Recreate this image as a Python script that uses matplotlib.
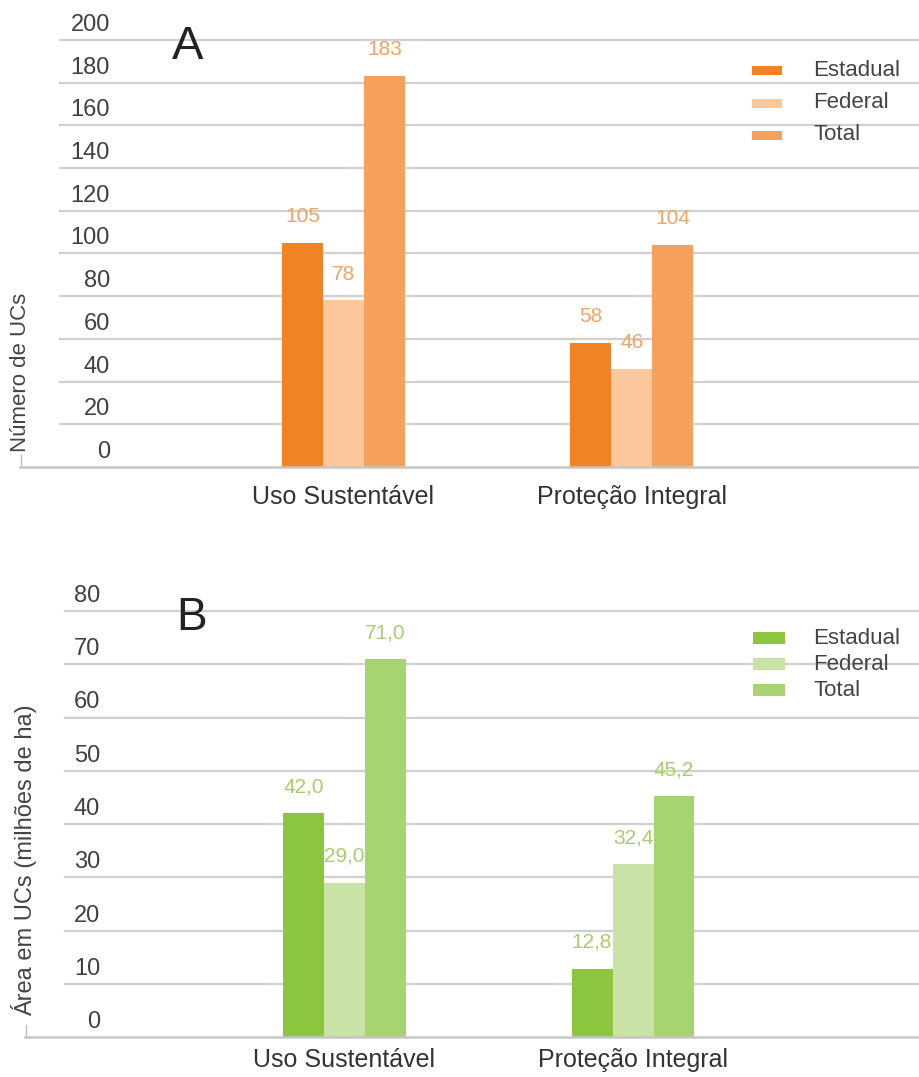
import matplotlib
matplotlib.use("Agg")
import matplotlib.pyplot as plt
import matplotlib.transforms as mtransforms
from matplotlib.patches import Rectangle
import numpy as np

plt.rcParams['font.family'] = ['Liberation Sans', 'DejaVu Sans']

# ---- data -------------------------------------------------------------
categories = ["Uso Sustentável", "Proteção Integral"]
series = ["Estadual", "Federal", "Total"]

count_estadual = [105, 58]
count_federal = [78, 46]
count_total = [183, 104]

area_estadual = [42.0, 12.8]
area_federal = [29.0, 32.4]
area_total = [71.0, 45.2]

count_ticks = [0, 20, 40, 60, 80, 100, 120, 140, 160, 180, 200]
area_ticks = [0, 10, 20, 30, 40, 50, 60, 70, 80]

# ---- style ------------------------------------------------------------
orange = ["#F08326", "#FAC89C", "#F6A15B"]
green = ["#8CC53E", "#C9E2A6", "#A7D370"]
orange_text = "#F0A464"
green_text = "#A6CE6E"
grid_color = "#d0d0d0"
tick_color = "#404040"

W, H, DPI = 919, 1077, 100
fig = plt.figure(figsize=(W / DPI, H / DPI), dpi=DPI)


def px_rect(left, right, top, bottom):
    return [left / W, 1 - bottom / H, (right - left) / W, (bottom - top) / H]


def fx(px):
    return px / W


def fy(py):
    return 1 - py / H


def draw_panel(ax, values, colors, ticks, xlim, grid_start, label_right_px,
               ax_left_px, ax_width_px, ax_height_px, fmt, text_color, cat_pad):
    x = np.arange(len(categories))
    width = 0.142
    offsets = [-width, 0.0, width]
    for vals, col, off in zip(values, colors, offsets):
        ax.bar(x + off, vals, width=width, color=col, linewidth=0, zorder=2)
        for xi, v in zip(x, vals):
            ax.annotate(fmt(v), (xi + off, v), xytext=(0, 19),
                        textcoords="offset points", ha="center", va="center",
                        fontsize=15, color=text_color, zorder=4)

    ax.set_xlim(*xlim)
    ax.set_ylim(ticks[0], ticks[-1])
    for t in ticks[1:]:
        ax.axhline(t, xmin=grid_start, color=grid_color, lw=1.6, zorder=0,
                   clip_on=False)
    ax.axhline(ticks[0], xmin=0, xmax=1, color="#c6c6c6", lw=1.8, zorder=3,
               clip_on=False)
    # short stub at the left end of the baseline
    ax.plot([0.001, 0.001], [0, 12 / ax_height_px], transform=ax.transAxes,
            color="#bdbdbd", lw=1.0, clip_on=False)

    for s in ax.spines.values():
        s.set_visible(False)
    ax.set_yticks([])

    # value labels of the y axis, sitting just above their gridlines
    shift = mtransforms.ScaledTranslation(0, 15 / DPI, fig.dpi_scale_trans)
    trans = mtransforms.blended_transform_factory(ax.transAxes, ax.transData) + shift
    lx = (label_right_px - ax_left_px) / ax_width_px
    for t in ticks:
        ax.text(lx, t, str(t), transform=trans, ha="right", va="center",
                fontsize=17, color=tick_color)

    ax.set_xticks(x)
    ax.set_xticklabels(categories)
    ax.tick_params(axis="x", length=0, pad=cat_pad, labelsize=18,
                   labelcolor="#333333")


def draw_legend(colors, rows_y, patch_x0, patch_x1, patch_h, text_x):
    for name, col, y in zip(series, colors, rows_y):
        fig.add_artist(Rectangle((fx(patch_x0), fy(y + patch_h / 2)),
                                 (patch_x1 - patch_x0) / W, patch_h / H,
                                 transform=fig.transFigure, color=col, lw=0))
        fig.text(fx(text_x), fy(y), name, ha="left", va="center",
                 fontsize=16, color="#444444")


# ---- panel A: number of units -----------------------------------------
axA = fig.add_axes(px_rect(20, 919, 40, 467))
draw_panel(axA, [count_estadual, count_federal, count_total], orange,
           count_ticks, (-1.121, 1.995), 0.045, 110, 20, 899, 427,
           lambda v: f"{v:d}", orange_text, 13)
fig.text(fx(21), fy(372), "Número de UCs", rotation=90, ha="center",
         va="center", fontsize=16, color="#444444")
fig.text(fx(188), fy(47), "A", ha="center", va="center", fontsize=34,
         color="#222222")
draw_legend(orange, [70, 103, 135], 752, 782, 9, 813)

# ---- panel B: area -----------------------------------------------------
axB = fig.add_axes(px_rect(25, 919, 611, 1037))
draw_panel(axB, [area_estadual, area_federal, area_total], green,
           area_ticks, (-1.107, 1.991), 0.045, 100, 25, 894, 426,
           lambda v: f"{v:.1f}".replace(".", ","), green_text, 8)
fig.text(fx(24), fy(860), "Área em UCs (milhões de ha)", rotation=90,
         ha="center", va="center", fontsize=17, color="#444444")
fig.text(fx(192), fy(618), "B", ha="center", va="center", fontsize=33,
         color="#222222")
draw_legend(green, [638, 664, 690], 753, 785, 12, 813)

fig.savefig("out.png", dpi=DPI)
